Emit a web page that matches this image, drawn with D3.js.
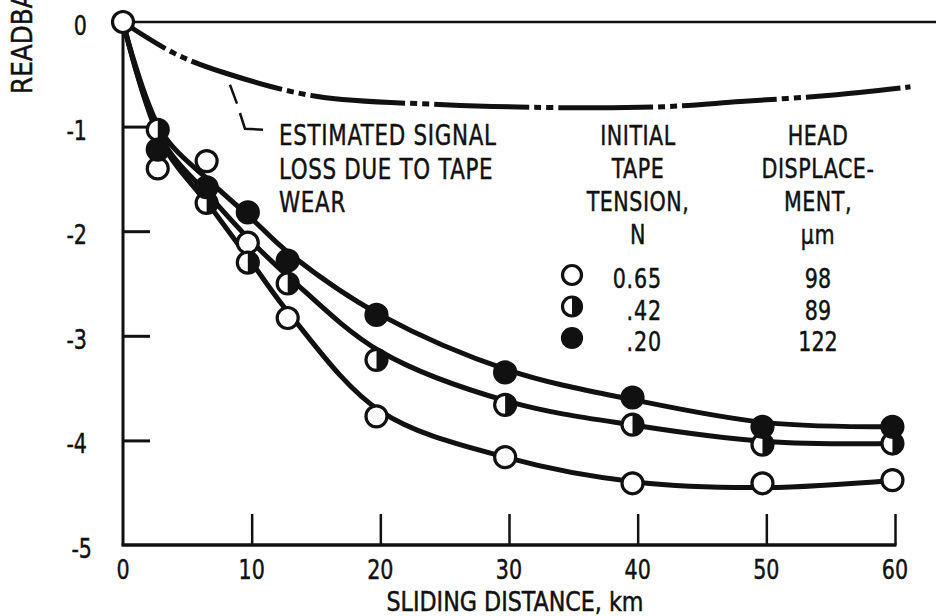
<!DOCTYPE html>
<html><head><meta charset="utf-8">
<script src="https://cdn.jsdelivr.net/npm/d3@7"></script>
<style>
html,body{margin:0;padding:0;background:#fff;}
svg{display:block;}
text{font-family:"Liberation Sans Narrow","DejaVu Sans Condensed","Arial Narrow","DejaVu Sans",sans-serif;fill:#111;stroke:#111;stroke-width:0.45px;}
</style></head><body>
<svg id="c" width="936" height="616"></svg>
<script>
// ---------- data ----------
const xTickValues = [0, 10, 20, 30, 40, 50, 60];
const yTickValues = [0, -1, -2, -3, -4, -5];

// measured sliding distance (km) of each marker cluster
const distance = [2.7, 6.5, 9.7, 12.8, 19.7, 29.7, 39.6, 49.7, 59.8];
// readback signal change (dB) per tension
const openValues   = [-1.40, -1.33, -2.11, -2.83, -3.77, -4.16, -4.41, -4.41, -4.38]; // 0.65 N
const halfValues   = [-1.03, -1.73, -2.30, -2.50, -3.23, -3.66, -3.85, -4.04, -4.03]; // .42 N
const filledValues = [-1.22, -1.58, -1.82, -2.28, -2.80, -3.35, -3.59, -3.87, -3.87]; // .20 N

// faired curves drawn through the points
const curveDistance = [0, 3, 7, 10, 13, 20, 30, 40, 50, 60];
const openCurve   = [0, -1.15, -1.80, -2.30, -2.80, -3.72, -4.17, -4.40, -4.45, -4.38];
const halfCurve   = [0, -1.12, -1.70, -2.10, -2.45, -3.15, -3.63, -3.86, -4.01, -4.03];
const filledCurve = [0, -1.05, -1.55, -1.88, -2.22, -2.80, -3.33, -3.62, -3.83, -3.87];

// estimated signal loss due to tape wear
const wearDistance = [0, 4, 8, 15, 25, 35, 42, 48, 55, 61.2];
const wearValues   = [0, -0.30, -0.49, -0.71, -0.79, -0.82, -0.81, -0.76, -0.70, -0.62];

// legend
const tensionLabels = ["0.65", ".42", ".20"];
const displacementLabels = ["98", "89", "122"];
const tensionHeader = ["INITIAL", "TAPE", "TENSION,", "N"];
const displacementHeader = ["HEAD", "DISPLACE-", "MENT,", "\u03BCm"];
const noteLines = ["ESTIMATED SIGNAL", "LOSS DUE TO TAPE", "WEAR"];

// ---------- chart ----------
const svg = d3.select("#c");
const ink = "#111";
const x = d3.scaleLinear().domain([0, 60]).range([123, 895]);
const y = d3.scaleLinear().domain([-5, 0]).range([545, 22]);

// condensed lettering: squeeze glyphs horizontally
function condense(sel, f) {
  sel.each(function () {
    const n = this.getComputedTextLength();
    this.setAttribute("textLength", n * f);
    this.setAttribute("lengthAdjust", "spacingAndGlyphs");
  });
}
const CF = 0.85;

// frame lines
svg.append("line").attr("x1", x(0)).attr("x2", x(0)).attr("y1", y(0)).attr("y2", y(-5))
  .attr("stroke", ink).attr("stroke-width", 3);
svg.append("line").attr("x1", x(0) - 1.5).attr("x2", x(60) + 1.5).attr("y1", y(-5)).attr("y2", y(-5))
  .attr("stroke", ink).attr("stroke-width", 3.5);
svg.append("line").attr("x1", x(0)).attr("x2", 936).attr("y1", y(0)).attr("y2", y(0))
  .attr("stroke", ink).attr("stroke-width", 2.5);

// inner ticks
const yAx = svg.append("g").attr("transform", `translate(${x(0)},0)`)
  .call(d3.axisLeft(y).tickValues(yTickValues.filter(v => v !== 0 && v !== -5)).tickSize(-27).tickFormat(""));
yAx.select(".domain").remove();
yAx.selectAll(".tick line").attr("stroke", ink).attr("stroke-width", 3);

const xAx = svg.append("g").attr("transform", `translate(0,${y(-5)})`)
  .call(d3.axisBottom(x).tickValues(xTickValues.filter(v => v !== 0)).tickSize(-31).tickFormat(""));
xAx.select(".domain").remove();
xAx.selectAll(".tick line").attr("stroke", ink).attr("stroke-width", 2.5);

// tick labels
svg.selectAll(".ylab").data(yTickValues).join("text").attr("class", "ylab")
  .attr("x", d => d === -5 ? 92 : 87).attr("y", d => y(d) + 13)
  .attr("text-anchor", "end").attr("font-size", 27).text(d => d === 0 ? "0" : "-" + Math.abs(d))
  .call(condense, CF);
svg.selectAll(".xlab").data(xTickValues).join("text").attr("class", "xlab")
  .attr("x", d => x(d)).attr("y", 579)
  .attr("text-anchor", "middle").attr("font-size", 27).text(d => d)
  .call(condense, CF);

// axis titles
svg.append("text").attr("transform", "translate(32,94) rotate(-90)")
  .attr("font-size", 28).text("READBACK SIGNAL, dB").call(condense, 0.98);
svg.append("text").attr("x", 515).attr("y", 611).attr("text-anchor", "middle")
  .attr("font-size", 26).text("SLIDING DISTANCE,  km").call(condense, 0.95);

// wear curve (dash-dot-dot)
const line = d3.line().x(d => x(d[0])).y(d => y(d[1])).curve(d3.curveCatmullRom.alpha(0.5));
svg.append("path").datum(wearDistance.map((d, i) => [d, wearValues[i]]))
  .attr("d", line).attr("fill", "none").attr("stroke", ink).attr("stroke-width", 5)
  .attr("stroke-dasharray", "95,5,7,5,7,5").attr("stroke-dashoffset", 45);

// leader line for the note
const leader1 = [[8.31, -0.60], [8.86, -0.78]];
const leader2 = [[9.09, -0.87], [9.48, -1.02], [10.88, -1.03]];
[leader1, leader2].forEach(pts => {
  svg.append("path").datum(pts).attr("d", d3.line().x(d => x(d[0])).y(d => y(d[1])))
    .attr("fill", "none").attr("stroke", ink).attr("stroke-width", 2.5);
});
svg.selectAll(".note").data(noteLines).join("text").attr("class", "note")
  .attr("x", 279).attr("y", (d, i) => 145 + i * 33.5).attr("font-size", 28).attr("letter-spacing", 0.8).text(d => d)
  .call(condense, CF);

// faired series curves
[openCurve, halfCurve, filledCurve].forEach(vals => {
  svg.append("path").datum(curveDistance.map((d, i) => [d, vals[i]]))
    .attr("d", line).attr("fill", "none").attr("stroke", ink).attr("stroke-width", 5)
    .attr("stroke-linejoin", "round");
});

// markers
const R = 10.5;
function drawMarker(g, kind, r) {
  const arc = d3.arc().innerRadius(0).outerRadius(r).startAngle(0).endAngle(Math.PI);
  g.append("circle").attr("r", r).attr("fill", kind === "filled" ? ink : "#fff")
    .attr("stroke", ink).attr("stroke-width", 3.2);
  if (kind === "half") g.append("path").attr("d", arc()).attr("fill", ink);
}
const seriesDefs = [
  {kind: "open", vals: openValues},
  {kind: "half", vals: halfValues},
  {kind: "filled", vals: filledValues}
];
seriesDefs.forEach(s => {
  s.vals.forEach((v, i) => {
    const g = svg.append("g").attr("transform", `translate(${x(distance[i])},${y(v)})`);
    drawMarker(g, s.kind, R);
  });
});
// origin point
drawMarker(svg.append("g").attr("transform", `translate(${x(0)},${y(0)})`), "open", R);

// legend
const col1 = 638, col2 = 818;
svg.selectAll(".h1").data(tensionHeader).join("text").attr("class", "h1")
  .attr("x", col1).attr("y", (d, i) => 145 + i * 33).attr("text-anchor", "middle")
  .attr("font-size", 27).attr("letter-spacing", 0.6).text(d => d).call(condense, CF);
svg.selectAll(".h2").data(displacementHeader).join("text").attr("class", "h2")
  .attr("x", col2).attr("y", (d, i) => 145 + i * 33).attr("text-anchor", "middle")
  .attr("font-size", 27).attr("letter-spacing", 0.6).text(d => d).call(condense, CF);
const legendKinds = ["open", "half", "filled"];
legendKinds.forEach((k, i) => {
  const cy = 275 + i * 31.5;
  drawMarker(svg.append("g").attr("transform", `translate(572,${cy})`), k, 9.5);
  svg.append("text").attr("x", 662).attr("y", cy + 13).attr("text-anchor", "end")
    .attr("font-size", 27).attr("letter-spacing", 1).text(tensionLabels[i]).call(condense, CF);
  svg.append("text").attr("x", col2).attr("y", cy + 13).attr("text-anchor", "middle")
    .attr("font-size", 27).text(displacementLabels[i]).call(condense, CF);
});
</script></body></html>
